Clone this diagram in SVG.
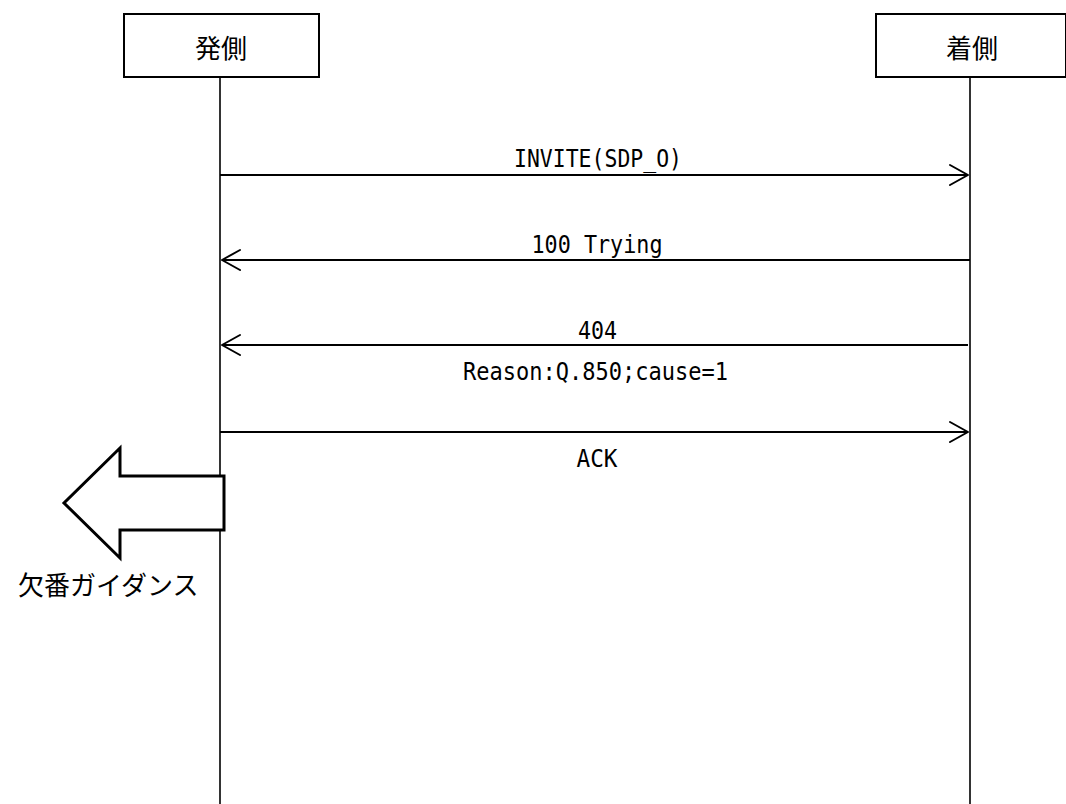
<svg xmlns="http://www.w3.org/2000/svg" width="1066" height="804" viewBox="0 0 1066 804">
<style>
.box{fill:#fff;stroke:#000;stroke-width:2}
.life{stroke:#000;stroke-width:1.6;fill:none}
.msg{stroke:#000;stroke-width:2;fill:none}
.head{stroke:#000;stroke-width:2;fill:none;stroke-linecap:round;stroke-linejoin:round}
.jp{font-family:"Noto Sans CJK JP","Noto Sans CJK SC",sans-serif;font-size:26px;fill:#000}
.lt{font-family:"DejaVu Sans Mono","Liberation Mono",monospace;font-size:25px;fill:#000;text-anchor:middle}
</style>
<rect width="1066" height="804" fill="#fff"/>
<g id="caller">
<rect class="box" x="124" y="14" width="195" height="63"/>
<text class="jp" x="221" y="58" text-anchor="middle">発側</text>
</g>
<g id="callee">
<rect class="box" x="876" y="14" width="190" height="63"/>
<text class="jp" x="972" y="58" text-anchor="middle">着側</text>
</g>
<g id="lifelines">
<line class="life" x1="220" y1="77" x2="220" y2="804"/>
<line class="life" x1="970" y1="77" x2="970" y2="804"/>
</g>
<g id="connectors">
<line class="msg" x1="220" y1="175" x2="968" y2="175"/>
<polyline class="head" points="950,165 968,175 950,185"/>
<line class="msg" x1="970" y1="260" x2="222" y2="260"/>
<polyline class="head" points="240,250 222,260 240,270"/>
<line class="msg" x1="968" y1="345" x2="222" y2="345"/>
<polyline class="head" points="240,335 222,345 240,355"/>
<line class="msg" x1="220" y1="432" x2="968" y2="432"/>
<polyline class="head" points="950,422 968,432 950,442"/>
</g>
<g id="labels">
<text class="lt" x="598" y="167" textLength="168" lengthAdjust="spacingAndGlyphs">INVITE(SDP_O)</text>
<text class="lt" x="597" y="253" textLength="131" lengthAdjust="spacingAndGlyphs">100 Trying</text>
<text class="lt" x="597.5" y="339" textLength="39" lengthAdjust="spacingAndGlyphs">404</text>
<text class="lt" x="595.5" y="380" textLength="265" lengthAdjust="spacingAndGlyphs">Reason:Q.850;cause=1</text>
<text class="lt" x="597" y="467" textLength="41" lengthAdjust="spacingAndGlyphs">ACK</text>
</g>
<g id="guidance">
<polygon points="224,476 120,476 120,448 64,503 120,558 120,530 224,530" fill="#fff" stroke="#000" stroke-width="3" stroke-linejoin="miter"/>
<text class="jp" x="18" y="595">欠番ガイダンス</text>
</g>
</svg>
